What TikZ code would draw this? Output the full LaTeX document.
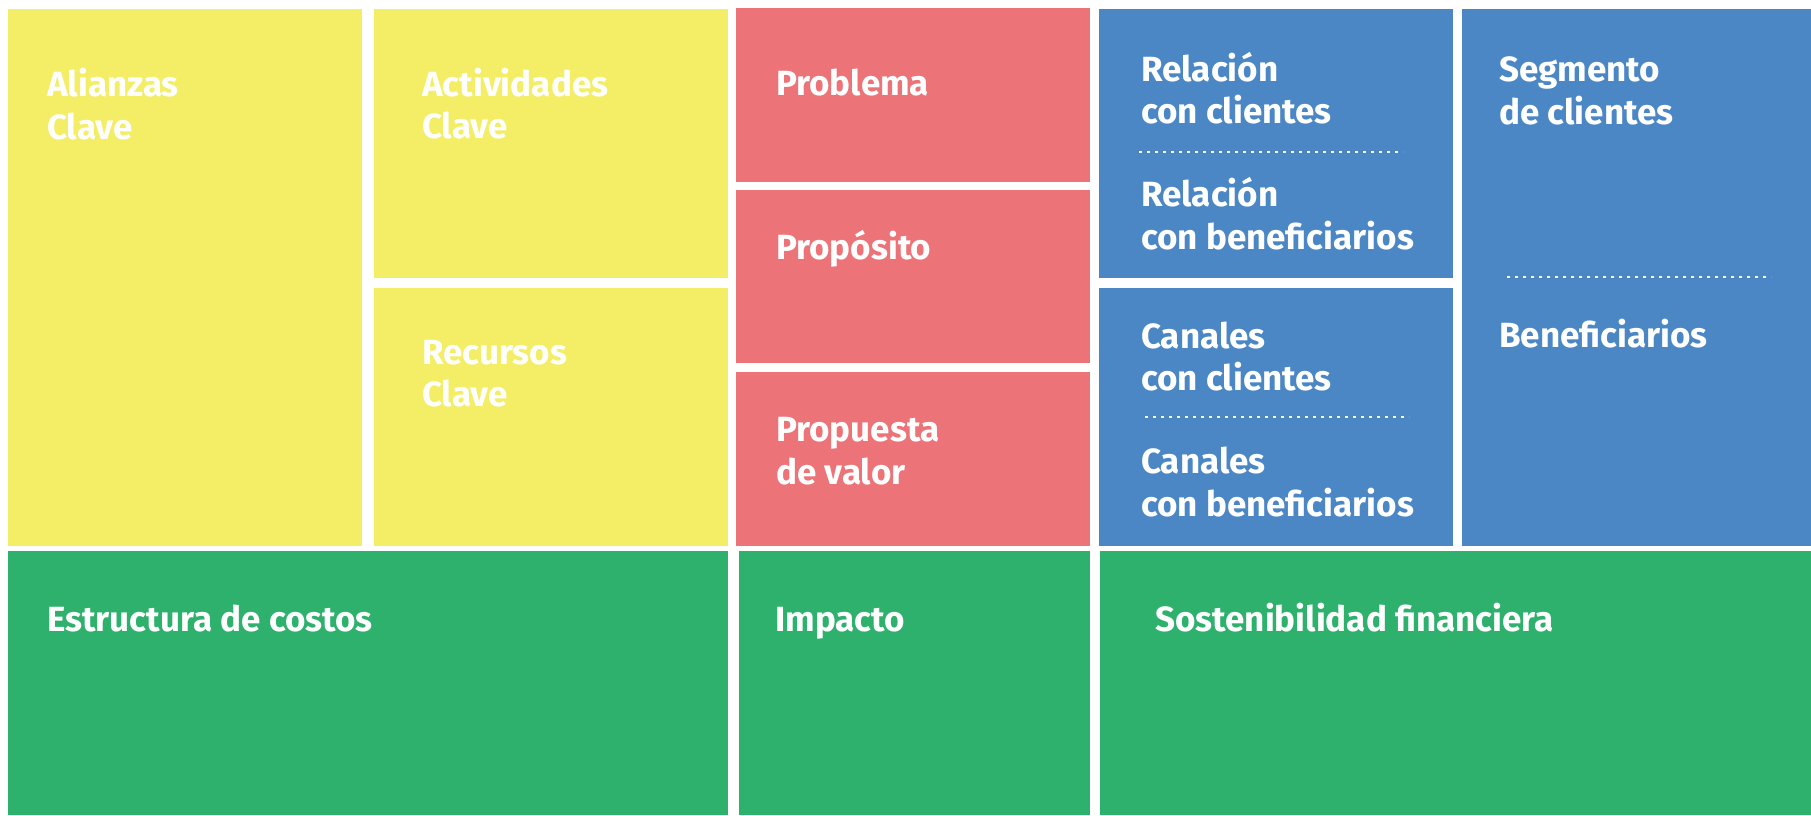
\documentclass[tikz,border=0pt]{standalone}
\usepackage{fontspec}
\setmainfont{Fira Sans}
\definecolor{cyel}{HTML}{F4EE66}
\definecolor{cred}{HTML}{EC7377}
\definecolor{cblu}{HTML}{4B87C5}
\definecolor{cgrn}{HTML}{2EB16C}
\tikzset{
  lbl/.style={anchor=base west, inner sep=0pt, text=white, align=left,
    font=\fontsize{35}{42.5}\selectfont\bfseries},
  sepline/.style={draw=white, line width=2pt, dash pattern=on 3pt off 5pt}
}
\begin{document}
\begin{tikzpicture}[x=1pt,y=-1pt]
\useasboundingbox (0,0) rectangle (1811,815);
\fill[white] (0,0) rectangle (1811,815);
% yellow
\fill[cyel] (8,9) rectangle (362,545.5);
\fill[cyel] (374,9) rectangle (728,277.7);
\fill[cyel] (374,288) rectangle (728,545.5);
% red
\fill[cred] (736,8) rectangle (1090,181.7);
\fill[cred] (736,190) rectangle (1090,363.3);
\fill[cred] (736,372.3) rectangle (1090,545.5);
% blue
\fill[cblu] (1099,9) rectangle (1453,277.7);
\fill[cblu] (1099,288) rectangle (1453,545.5);
\fill[cblu] (1462,9) rectangle (1811,545.5);
% green
\fill[cgrn] (8,551) rectangle (728,815);
\fill[cgrn] (739,551) rectangle (1090,815);
\fill[cgrn] (1100,551) rectangle (1811,815);
% labels (multi-line nodes are anchored at the baseline of their last line)
\node[lbl] (ali) at (47,139) {Alianzas\\Clave};
\node[lbl] (act) at (422,138.5) {Actividades\\Clave};
\node[lbl] (rec) at (422,406.7) {Recursos\\Clave};
\node[lbl] (pro) at (776,95) {Problema};
\node[lbl] (prp) at (776,259) {Propósito};
\node[lbl] (pva) at (776,484.3) {Propuesta\\de valor};
\node[lbl] (rcc) at (1141,123.5) {Relación\\con clientes};
\node[lbl] (rcb) at (1141,249) {Relación\\con beneficiarios};
\node[lbl] (ccc) at (1141,390.7) {Canales\\con clientes};
\node[lbl] (ccb) at (1141,516) {Canales\\con beneficiarios};
\node[lbl] (seg) at (1499,124) {Segmento\\de clientes};
\node[lbl] (ben) at (1499,347.3) {Beneficiarios};
\node[lbl] (est) at (47,631.7) {Estructura de costos};
\node[lbl] (imp) at (775,631.7) {Impacto};
\node[lbl] (sos) at (1155,631.7) {Sostenibilidad financiera};
% dotted separators
\coordinate (d1a) at (1139,151.7); \coordinate (d1b) at (1403,151.7);
\coordinate (d2a) at (1145,416.7); \coordinate (d2b) at (1409,416.7);
\coordinate (d3a) at (1507,276.7); \coordinate (d3b) at (1771,276.7);
\draw[sepline] (d1a) -- (d1b);
\draw[sepline] (d2a) -- (d2b);
\draw[sepline] (d3a) -- (d3b);
\end{tikzpicture}
\end{document}
